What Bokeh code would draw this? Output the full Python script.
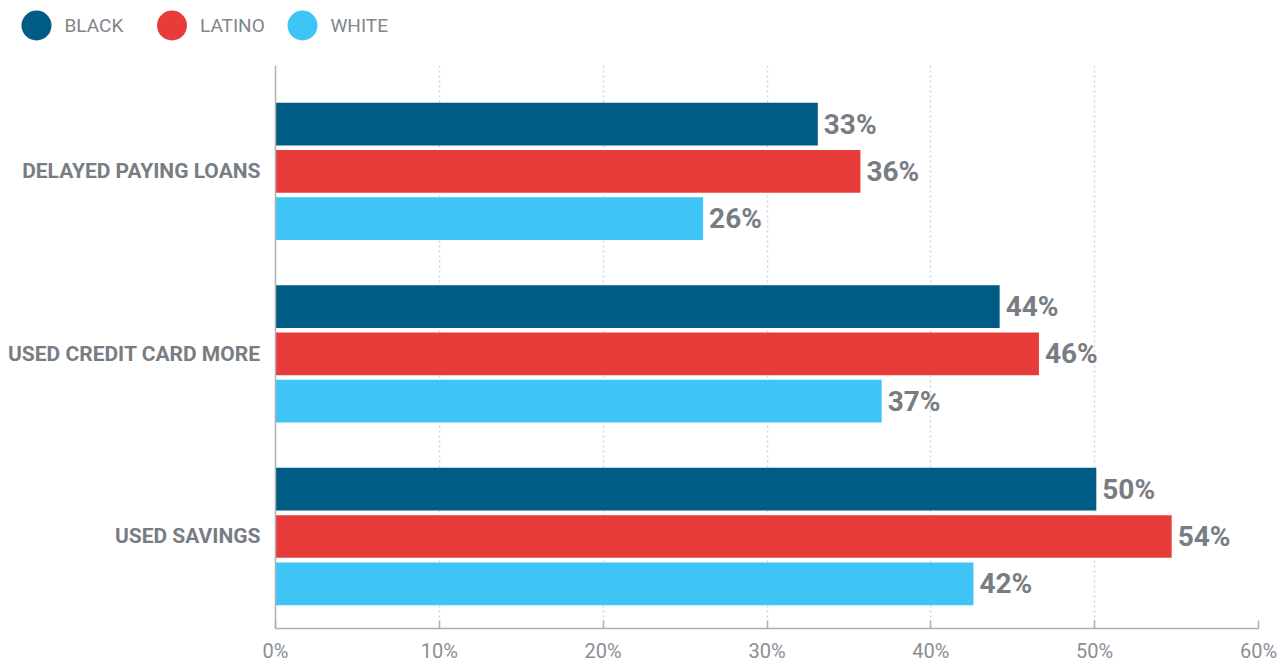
from bokeh.plotting import figure
from bokeh.layouts import column
from bokeh.models import ColumnDataSource, Range1d, FixedTicker
from bokeh.transform import dodge
from bokeh.core.properties import value
from bokeh.embed import file_html
from bokeh.resources import INLINE

# ---- data ----
categories = ["DELAYED PAYING LOANS", "USED CREDIT CARD MORE", "USED SAVINGS"]
series_names = ["BLACK", "LATINO", "WHITE"]
black = [33.1, 44.2, 50.1]
latino = [35.7, 46.6, 54.7]
white = [26.1, 37.0, 42.6]
black_labels = ["33%", "44%", "50%"]
latino_labels = ["36%", "46%", "54%"]
white_labels = ["26%", "37%", "42%"]
x_ticks = [0, 10, 20, 30, 40, 50, 60]
x_tick_labels = ["0%", "10%", "20%", "30%", "40%", "50%", "60%"]

colors = ["#005b85", "#e83c3b", "#3ec5f5"]
FONT = "Roboto"
LABEL_GRAY = "#787d83"
TICK_GRAY = "#8a8f95"

# ---- legend strip (layout in pixel units) ----
legend_circle_x = [36, 171.5, 302]
LEG_Y = 25
lf = figure(width=1280, height=65, output_backend="svg", toolbar_location=None,
            x_axis_type=None, y_axis_type=None,
            x_range=Range1d(0, 1280), y_range=Range1d(65, 0),
            min_border=0, min_border_left=0, min_border_right=0,
            min_border_top=0, min_border_bottom=0, frame_align=False)
lf.outline_line_color = None
lf.xgrid.grid_line_color = None
lf.ygrid.grid_line_color = None
leg_src = ColumnDataSource(dict(x=legend_circle_x, y=[LEG_Y] * 3,
                                name=series_names, color=colors))
lf.scatter(x="x", y="y", source=leg_src, marker="circle", size=30,
           fill_color="color", line_color=None)
lf.text(x="x", y="y", text="name", source=leg_src, x_offset=28,
        text_baseline="middle", text_align="left",
        text_font=value(FONT), text_font_size="19px", text_color="#80868b")

# ---- main chart ----
p = figure(width=1280, height=600, output_backend="svg", toolbar_location=None,
           x_range=Range1d(0, 60), y_range=Range1d(2.504, -0.580),
           min_border_left=275, min_border_right=22, min_border_top=0,
           min_border_bottom=34, frame_align=False)

cat_pos = list(range(len(categories)))
offsets = [-0.259, 0.0, 0.259]
bar_h = 0.234

for vals, labs, col, off in zip([black, latino, white],
                                [black_labels, latino_labels, white_labels],
                                colors, offsets):
    src = ColumnDataSource(dict(y=cat_pos, v=vals, lab=labs))
    yd = dodge("y", off, range=p.y_range)
    p.hbar(y=yd, left=0, right="v", height=bar_h, source=src,
           fill_color=col, line_color=None)
    p.text(x="v", y=yd, text="lab", source=src, x_offset=6,
           text_baseline="middle", text_align="left",
           text_font=value(FONT), text_font_style="bold",
           text_font_size="28px", text_color=LABEL_GRAY)

# axes
p.xaxis.ticker = FixedTicker(ticks=x_ticks)
p.xaxis.major_label_overrides = {t: l for t, l in zip(x_ticks, x_tick_labels)}
p.xaxis.axis_line_color = "#aeb0b3"
p.xaxis.axis_line_width = 1.5
p.xaxis.major_tick_line_color = "#aeb0b3"
p.xaxis.major_tick_line_width = 1.5
p.xaxis.major_tick_in = 8
p.xaxis.major_tick_out = 0
p.xaxis.minor_tick_line_color = None
p.xaxis.major_label_standoff = 10
p.xaxis.major_label_text_font = FONT
p.xaxis.major_label_text_font_size = "20px"
p.xaxis.major_label_text_color = TICK_GRAY

p.yaxis.ticker = FixedTicker(ticks=cat_pos)
p.yaxis.major_label_overrides = {i: c for i, c in zip(cat_pos, categories)}
p.yaxis.axis_line_color = "#aeb0b3"
p.yaxis.axis_line_width = 1.5
p.yaxis.major_tick_line_color = None
p.yaxis.minor_tick_line_color = None
p.yaxis.major_label_standoff = 9
p.yaxis.major_label_text_font = FONT
p.yaxis.major_label_text_font_style = "bold"
p.yaxis.major_label_text_font_size = "21px"
p.yaxis.major_label_text_color = LABEL_GRAY

p.xgrid.grid_line_color = "#d3d5d8"
p.xgrid.grid_line_dash = "2 3"
p.xgrid.grid_line_width = 1.5
p.ygrid.grid_line_color = None
p.outline_line_color = None
p.background_fill_color = "white"
p.border_fill_color = "white"

layout = column(lf, p, spacing=0)
open("out.html", "w").write(file_html(layout, INLINE))
